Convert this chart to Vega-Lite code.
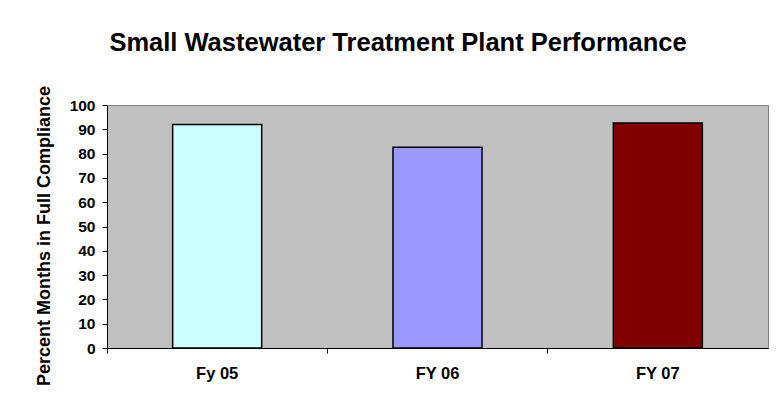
{
  "$schema": "https://vega.github.io/schema/vega-lite/v6.json",
  "width": 661,
  "height": 243,
  "autosize": "none",
  "padding": {"left": 107, "top": 105, "right": 11, "bottom": 54},
  "background": "white",
  "title": {
    "text": "Small Wastewater Treatment Plant Performance",
    "font": "Liberation Sans",
    "fontSize": 25.5,
    "fontWeight": "bold",
    "color": "black",
    "anchor": "middle",
    "baseline": "alphabetic",
    "offset": 9,
    "dx": -39.5
  },
  "data": {
    "values": [
      {"year": "Fy 05", "pct": 92},
      {"year": "FY 06", "pct": 82.6},
      {"year": "FY 07", "pct": 92.6}
    ]
  },
  "mark": {"type": "bar", "stroke": "black", "strokeWidth": 1.5, "width": {"band": 0.404}},
  "encoding": {
    "x": {
      "field": "year",
      "type": "nominal",
      "sort": null,
      "scale": {"paddingInner": 0, "paddingOuter": 0},
      "axis": {
        "title": null,
        "labelAngle": 0,
        "bandPosition": 0,
        "labelFont": "Liberation Sans",
        "labelFontSize": 16.5,
        "labelFontWeight": "bold",
        "labelColor": "black",
        "labelPadding": 12,
        "tickSize": 5,
        "tickColor": "black",
        "domainColor": "black",
        "domainWidth": 1
      }
    },
    "y": {
      "field": "pct",
      "type": "quantitative",
      "scale": {"domain": [0, 100], "nice": false},
      "axis": {
        "values": [0, 10, 20, 30, 40, 50, 60, 70, 80, 90, 100],
        "grid": false,
        "title": "Percent Months in Full Compliance",
        "titleFont": "Liberation Sans",
        "titleFontSize": 18,
        "titleFontWeight": "bold",
        "titleColor": "black",
        "titlePadding": 16,
        "titleY": 130.5,
        "labelFont": "Liberation Sans",
        "labelFontSize": 15.5,
        "labelFontWeight": "bold",
        "labelColor": "black",
        "labelPadding": 7,
        "tickSize": 5,
        "tickColor": "black",
        "domainColor": "black"
      }
    },
    "color": {
      "field": "year",
      "type": "nominal",
      "scale": {"domain": ["Fy 05", "FY 06", "FY 07"], "range": ["#CCFFFF", "#9999FF", "#800000"]},
      "legend": null
    }
  },
  "config": {
    "view": {"fill": "#C0C0C0", "stroke": "#808080"}
  }
}
